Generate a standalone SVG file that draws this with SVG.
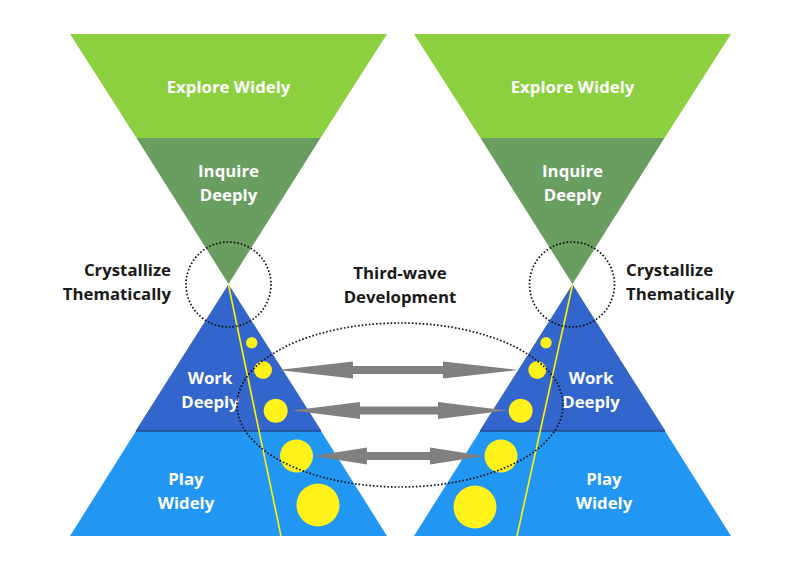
<svg xmlns="http://www.w3.org/2000/svg" width="800" height="572" viewBox="0 0 800 572">
<defs>
<style>
.t{font-family:"Open Sans","Noto Sans","Liberation Sans",sans-serif;font-weight:700;font-size:16.8px}
.w{fill:#ffffff;text-anchor:middle}
.k{fill:#1a1a1a}
.explore{fill:#8dd03f}
.inquire{fill:#699e60}
.work{fill:#3366cc;stroke:#2a55a8;stroke-width:0.8}
.play{fill:#2196f3}
.sep{stroke:#1f3f80;stroke-width:1.2}
.yl{stroke:#fff200;stroke-width:1.6;fill:none}
.dot{fill:#fff21a}
.dotted{fill:none;stroke:#111;stroke-width:1.7;stroke-dasharray:1.6 2}
.arr{fill:#808080}
</style>
</defs>
<rect width="800" height="572" fill="#ffffff"/>

<g id="left-funnel">
  <g id="left-explore">
    <polygon class="explore" points="70,34 387,34 320.5,138 136.5,138"/>
    <text class="t w" x="228.5" y="93">Explore Widely</text>
  </g>
  <g id="left-inquire">
    <polygon class="inquire" points="136.5,138 320.5,138 228.5,284"/>
    <text class="t w" x="228.5" y="177">Inquire</text>
    <text class="t w" x="228.5" y="201">Deeply</text>
  </g>
</g>
<g id="left-pyramid">
  <g id="left-play">
    <polygon class="play" points="136,431 321,431 387,536 70,536"/>
    <text class="t w" x="186" y="485">Play</text>
    <text class="t w" x="186" y="509">Widely</text>
  </g>
  <g id="left-work">
    <polygon class="work" points="228.5,285 321,431 136,431"/>
    <line class="sep" x1="136" y1="431" x2="321" y2="431"/>
    <text class="t w" x="210" y="384">Work</text>
    <text class="t w" x="210" y="408">Deeply</text>
  </g>
  <line class="yl" x1="228.5" y1="285" x2="281" y2="536"/>
  <g id="left-dots">
    <circle class="dot" cx="251.7" cy="342.7" r="5.7"/>
    <circle class="dot" cx="263" cy="370" r="9"/>
    <circle class="dot" cx="275.7" cy="410.7" r="12"/>
    <circle class="dot" cx="296.5" cy="456" r="16.5"/>
    <circle class="dot" cx="318" cy="505" r="21.5"/>
  </g>
</g>

<g id="right-funnel">
  <g id="right-explore">
    <polygon class="explore" points="414,34 731,34 664.5,138 480.5,138"/>
    <text class="t w" x="572.5" y="93">Explore Widely</text>
  </g>
  <g id="right-inquire">
    <polygon class="inquire" points="480.5,138 664.5,138 572.5,284"/>
    <text class="t w" x="572.5" y="177">Inquire</text>
    <text class="t w" x="572.5" y="201">Deeply</text>
  </g>
</g>
<g id="right-pyramid">
  <g id="right-play">
    <polygon class="play" points="480,431 665,431 731,536 414,536"/>
    <text class="t w" x="604" y="485">Play</text>
    <text class="t w" x="604" y="509">Widely</text>
  </g>
  <g id="right-work">
    <polygon class="work" points="572.5,285 665,431 480,431"/>
    <line class="sep" x1="480" y1="431" x2="665" y2="431"/>
    <text class="t w" x="591" y="384">Work</text>
    <text class="t w" x="591" y="408">Deeply</text>
  </g>
  <line class="yl" x1="572.5" y1="285" x2="517" y2="536"/>
  <g id="right-dots">
    <circle class="dot" cx="546" cy="342.7" r="5.7"/>
    <circle class="dot" cx="537.3" cy="370" r="9"/>
    <circle class="dot" cx="520.7" cy="410.7" r="12"/>
    <circle class="dot" cx="501" cy="456" r="16.5"/>
    <circle class="dot" cx="475" cy="507" r="21.5"/>
  </g>
</g>

<g id="labels">
  <g id="left-crystallize">
    <text class="t k" x="171" y="276" text-anchor="end">Crystallize</text>
    <text class="t k" x="171" y="300" text-anchor="end">Thematically</text>
  </g>
  <g id="right-crystallize">
    <text class="t k" x="626" y="276">Crystallize</text>
    <text class="t k" x="626" y="300">Thematically</text>
  </g>
  <g id="third-wave">
    <text class="t k" x="400" y="279" text-anchor="middle">Third-wave</text>
    <text class="t k" x="400" y="303" text-anchor="middle">Development</text>
  </g>
</g>

<g id="connectors">
  <circle class="dotted" cx="228.5" cy="284.5" r="42.5"/>
  <circle class="dotted" cx="572" cy="284.5" r="42.5"/>
  <ellipse class="dotted" cx="400" cy="405" rx="163" ry="82"/>
  <polygon class="arr" points="278,370 353,361.5 353,366 443,366 443,361.5 518,370 443,378.5 443,374 353,374 353,378.5"/>
  <polygon class="arr" points="292,410.5 360,402 360,406.5 438,406.5 438,402 507,410.5 438,419 438,414.5 360,414.5 360,419"/>
  <polygon class="arr" points="313,456 367,447.5 367,452 430,452 430,447.5 485,456 430,464.5 430,460 367,460 367,464.5"/>
</g>
</svg>
